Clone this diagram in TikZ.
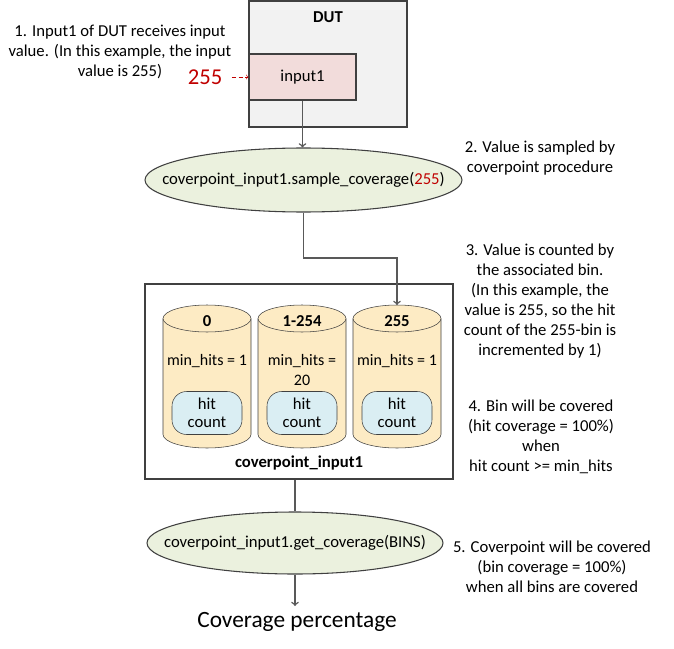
\documentclass[tikz,border=0pt]{standalone}
\usepackage{fontspec}
\setmainfont{Carlito}
\usepackage{tikz}
\usetikzlibrary{shapes.geometric}

\definecolor{dutgray}{HTML}{F2F2F2}
\definecolor{inpink}{HTML}{F2DCDB}
\definecolor{ovalgreen}{HTML}{EBF1DE}
\definecolor{bintan}{HTML}{FDEBC4}
\definecolor{hitblue}{HTML}{DAEEF3}
\definecolor{edge}{HTML}{404040}
\definecolor{wiregray}{HTML}{595959}
\definecolor{valred}{HTML}{C00000}

\tikzset{
  note/.style={align=center, inner sep=0pt, font=\fontsize{12.5}{15}\selectfont},
  oval/.style={draw=edge, thick, fill=ovalgreen, ellipse, inner sep=0pt},
  wire/.style={draw=wiregray, line width=1.1pt},
  hitbox/.style={draw=edge, fill=hitblue, rounded corners=11pt, minimum width=52.5pt, minimum height=32.25pt, align=center, inner sep=0pt, font=\fontsize{12.5}{13.5}\selectfont}
}

\begin{document}
\begin{tikzpicture}[x=0.75pt, y=-0.75pt]
  \useasboundingbox (0,0) rectangle (674,649);

  % DUT with its input
  \node[draw=edge, thick, fill=dutgray, minimum width=118.5pt, minimum height=94.5pt, inner sep=0pt] (dut) at (328,64) {};
  \node[note, font=\fontsize{12.5}{15}\selectfont\bfseries] (dutname) at (328,17) {DUT};
  \node[draw=edge, thick, fill=inpink, minimum width=80.25pt, minimum height=34.5pt, inner sep=0pt, font=\fontsize{12.5}{15}\selectfont] (input1) at (302.5,77) {input1};
  \node[text=valred, inner sep=0pt, font=\fontsize{17}{19}\selectfont] (value) at (205,77) {255};
  \draw[draw=valred, dashed, dash pattern=on 3pt off 2pt, ->] (value.east) ++(7pt,0) -- (input1.west);

  \node[note] (step1) at (120,52) {1. Input1 of DUT receives input\\value. (In this example, the input\\value is 255)};

  % sampling
  \node[oval, minimum width=237.75pt, minimum height=48pt,
    label={[note]center:coverpoint\_input1.sample\_coverage(\textcolor{valred}{255})}] (sample) at (303.5,180) {};
  \draw[wire, ->] (input1.south) -- (input1.south |- sample.north);
  \node[note] (step2) at (540,158) {2. Value is sampled by\\coverpoint procedure};

  % coverpoint with its bins
  \node[draw=edge, thick, minimum width=231pt, minimum height=146.25pt, inner sep=0pt] (bins) at (299,381.5) {};
  \foreach \xbin/\binname/\minhits [count=\i] in {207/0/{min\_hits = 1}, 302/1-254/{min\_hits =\\20}, 397/255/{min\_hits = 1}} {
    \path[draw=edge, fill=bintan] (\xbin-44,318.5) -- (\xbin-44,434.5)
      arc[start angle=180, end angle=360, x radius=33pt, y radius=10.125pt]
      -- (\xbin+44,318.5);
    \path[draw=edge, fill=bintan] (\xbin,318.5) ellipse [x radius=33pt, y radius=10.125pt];
    \coordinate (bintop\i) at (\xbin,305);
    \node[note, font=\fontsize{12.5}{15}\selectfont\bfseries] (binname\i) at (\xbin,321) {\binname};
    \node[note, anchor=north, font=\fontsize{12}{15}\selectfont] (minhits\i) at (\xbin,354) {\minhits};
    \node[hitbox] (hit\i) at (\xbin,413) {hit\\count};
  }
  \node[note, font=\fontsize{12.5}{15}\selectfont\bfseries] (binsname) at (299,463) {coverpoint\_input1};
  \draw[wire, ->] (sample.south) -- (303.5,258) -| (bintop3);
  \node[note] (step3) at (540,301.5) {3. Value is counted by\\the associated bin.\\(In this example, the\\value is 255, so the hit\\count of the 255-bin is\\incremented by 1)};
  \node[note] (step4) at (541,436.5) {4. Bin will be covered\\(hit coverage = 100\%)\\when\\hit count >= min\_hits};

  % coverage result
  \node[oval, minimum width=222pt, minimum height=46.5pt,
    label={[note]center:coverpoint\_input1.get\_coverage(BINS)}] (get) at (295,543) {};
  \draw[wire] (get.north |- bins.south) -- (get.north);
  \node[note] (step5) at (552,567) {5. Coverpoint will be covered\\(bin coverage = 100\%)\\when all bins are covered};
  \node[inner sep=0pt, font=\fontsize{17.5}{20}\selectfont] (percent) at (297,622) {Coverage percentage};
  \draw[wire, ->] (get.south) -- (get.south |- 0,606);
\end{tikzpicture}
\end{document}
